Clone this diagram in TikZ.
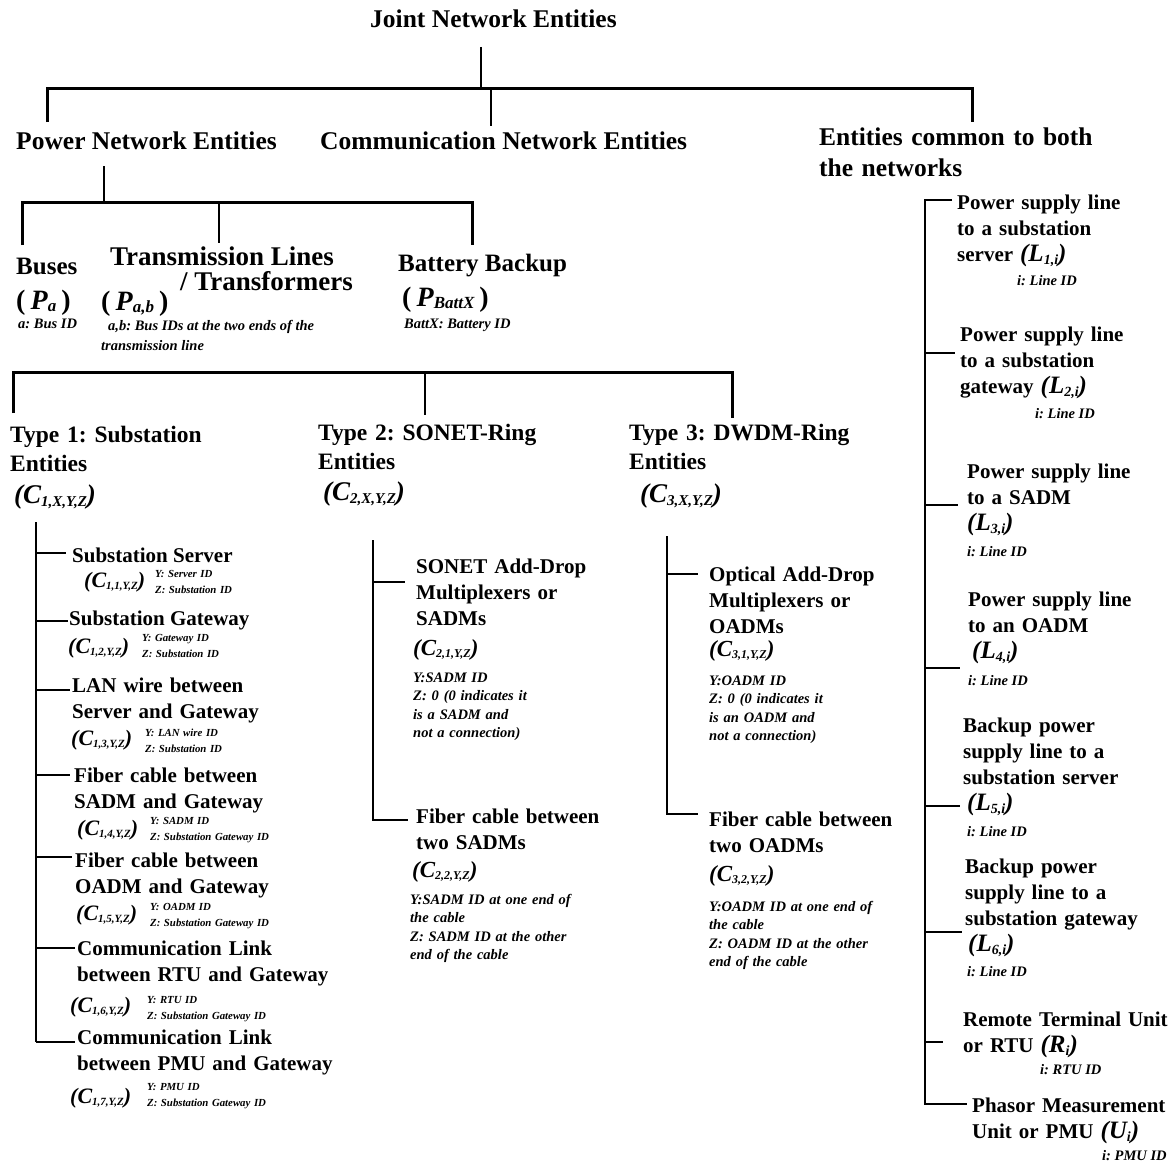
\documentclass[tikz,border=0pt]{standalone}
\usepackage{fontspec}
\setmainfont{Liberation Serif}
\frenchspacing
% type sizes for the levels of the tree
\newcommand\fontHead{\fontsize{25.5}{31}\selectfont\bfseries}
\newcommand\fontGroup{\fontsize{25}{30}\selectfont\bfseries}
\newcommand\fontType{\fontsize{23.5}{29}\selectfont\bfseries}
\newcommand\fontItem{\fontsize{21}{26}\selectfont\bfseries}
\newcommand\fontNote{\fontsize{14.5}{18.6}\selectfont\bfseries\itshape}
\newcommand\fontTiny{\fontsize{10.8}{16.5}\selectfont\bfseries\itshape}
\newcommand\fontPNote{\fontsize{14.5}{18}\selectfont\bfseries\itshape}
% entity symbols: (X_{sub})
\newcommand\Sym[4]{{\fontsize{#1}{#1}\selectfont\bfseries\itshape(#2\raisebox{-0.12em}{\fontsize{#3}{#3}\selectfont #4})}}
\newcommand\Psym[1]{{\fontsize{28}{28}\selectfont\bfseries(\hspace{5pt}\textit{P}\raisebox{-0.1em}{\fontsize{17}{17}\selectfont\itshape #1}\hspace{5pt})}}
\begin{document}
\begin{tikzpicture}[x=1pt,y=-1pt,
  txt/.style={anchor=base west,inner sep=0pt},
  multi/.style={txt,text width=#1,align=left},
  head/.style={txt,font=\fontHead},
  group/.style={txt,font=\fontGroup},
  typ/.style={multi=250pt,font=\fontType},
  item/.style={txt,font=\fontItem},
  items/.style={multi=#1,font=\fontItem},
  note/.style={txt,font=\fontNote},
  notes/.style={multi=#1,font=\fontNote},
  tiny/.style={multi=130pt,font=\fontTiny},
  pnote/.style={txt,font=\fontPNote},
  wire/.style={line width=2.6pt},
  bar/.style={line width=3pt}]
\fill[white] (0,0) rectangle (1174,1164);
\path[use as bounding box] (0,0) rectangle (1174,1164);

% ---------- top level ----------
\node[head] (root) at (370,28) {Joint Network Entities};
\node[head] (pow) at (16,149) {Power Network Entities};
\node[head] (com) at (320,149) {Communication Network Entities};
\node[head,multi=290pt] (both) at (819,145) {Entities common to both\\the networks};

\coordinate (rootS) at (481,47); \coordinate (rootB) at (481,88);
\coordinate (barL) at (47,88); \coordinate (barR) at (972,88);
\coordinate (powT) at (47,122); \coordinate (bothT) at (972,122);
\coordinate (comB) at (491,88); \coordinate (comT) at (491,126);
\draw[wire] (rootS) -- (rootB);
\draw[bar] (powT) -- (barL) -- (barR) -- (bothT);
\draw[wire] (comB) -- (comT);

% ---------- power network entities ----------
\node[group] (bus) at (16,274) {Buses};
\node[txt] (busf) at (16,309) {\Psym{a}};
\node[pnote] (busn) at (18,328) {a: Bus ID};

\node[txt,font=\fontsize{27}{30}\selectfont\bfseries] (tl) at (110,265) {Transmission Lines};
\node[txt,font=\fontsize{27}{30}\selectfont\bfseries] (tl2) at (180,290) {/ Transformers};
\node[txt] (tlf) at (101,310) {\Psym{a,b}};
\node[pnote] (tln) at (108,330) {a,b: Bus IDs at the two ends of the};
\node[pnote] (tln2) at (101,350) {transmission line};

\node[group] (bb) at (398,271) {Battery Backup};
\node[txt] (bbf) at (402,306) {\Psym{BattX}};
\node[pnote] (bbn) at (404,328) {BattX: Battery ID};

\coordinate (pS) at (104,166); \coordinate (pB) at (104,202);
\coordinate (pbL) at (22,202); \coordinate (pbR) at (472,202);
\coordinate (busT) at (22,245); \coordinate (tlB) at (219,202);
\coordinate (tlT) at (219,243); \coordinate (bbT) at (472,245);
\draw[wire] (pS) -- (pB);
\draw[bar] (busT) -- (pbL) -- (pbR) -- (bbT);
\draw[wire] (tlB) -- (tlT);

% ---------- communication network entities ----------
\coordinate (cbL) at (13,372); \coordinate (cbR) at (732,372);
\coordinate (t1T) at (13,413); \coordinate (t2B) at (425,372);
\coordinate (t2T) at (425,415); \coordinate (t3T) at (732,418);
\draw[bar] (t1T) -- (cbL) -- (cbR) -- (t3T);
\draw[wire] (t2B) -- (t2T);

\node[typ] (t1) at (10,442) {Type 1: Substation\\Entities};
\node[txt] (t1f) at (14,503) {\Sym{27}{C}{15}{1,X,Y,Z}};
\node[typ] (t2) at (318,440) {Type 2: SONET-Ring\\Entities};
\node[txt] (t2f) at (323,500) {\Sym{27}{C}{15}{2,X,Y,Z}};
\node[typ] (t3) at (629,440) {Type 3: DWDM-Ring\\Entities};
\node[txt] (t3f) at (640,502) {\Sym{27}{C}{15}{3,X,Y,Z}};

% Type 1 members
\node[item] (c11) at (72,562) {Substation Server};
\node[txt] (c11f) at (84,587) {\Sym{22}{C}{11}{1,1,Y,Z}};
\node[tiny] (c11n) at (155,577) {Y: Server ID\\Z: Substation ID};

\node[item] (c12) at (69,625) {Substation Gateway};
\node[txt] (c12f) at (68,653) {\Sym{22}{C}{11}{1,2,Y,Z}};
\node[tiny] (c12n) at (142,641) {Y: Gateway ID\\Z: Substation ID};

\node[items=280pt] (c13) at (72,692) {LAN wire between\\Server and Gateway};
\node[txt] (c13f) at (71,745) {\Sym{22}{C}{11}{1,3,Y,Z}};
\node[tiny] (c13n) at (145,736) {Y: LAN wire ID\\Z: Substation ID};

\node[items=280pt] (c14) at (74,782) {Fiber cable between\\SADM and Gateway};
\node[txt] (c14f) at (77,835) {\Sym{22}{C}{11}{1,4,Y,Z}};
\node[tiny] (c14n) at (150,824) {Y: SADM ID\\Z: Substation Gateway ID};

\node[items=280pt] (c15) at (75,867) {Fiber cable between\\OADM and Gateway};
\node[txt] (c15f) at (76,920) {\Sym{22}{C}{11}{1,5,Y,Z}};
\node[tiny] (c15n) at (150,910) {Y: OADM ID\\Z: Substation Gateway ID};

\node[items=280pt] (c16) at (77,955) {Communication Link\\between RTU and Gateway};
\node[txt] (c16f) at (70,1012) {\Sym{22}{C}{11}{1,6,Y,Z}};
\node[tiny] (c16n) at (147,1003) {Y: RTU ID\\Z: Substation Gateway ID};

\node[items=280pt] (c17) at (77,1044) {Communication Link\\between PMU and Gateway};
\node[txt] (c17f) at (70,1103) {\Sym{22}{C}{11}{1,7,Y,Z}};
\node[tiny] (c17n) at (147,1090) {Y: PMU ID\\Z: Substation Gateway ID};

\coordinate (s1T) at (36,522); \coordinate (s1B) at (36,1042);
\draw[wire] (s1T) -- (s1B);
\foreach \yy/\xx [count=\k] in {553/66,621/68,690/70,775/70,857/72,948/75,1042/75}
  \draw[wire] (36,\yy) coordinate (s1k\k) -- (\xx,\yy) coordinate (s1e\k);

% Type 2 members
\node[items=200pt] (c21) at (416,573) {SONET Add-Drop\\Multiplexers or\\SADMs};
\node[txt] (c21f) at (413,655) {\Sym{23}{C}{12}{2,1,Y,Z}};
\node[notes=180pt] (c21n) at (413,682) {Y:SADM ID\\Z: 0 (0 indicates it\\is a SADM and\\not a connection)};
\node[items=220pt] (c22) at (416,823) {Fiber cable between\\two SADMs};
\node[txt] (c22f) at (412,877) {\Sym{23}{C}{12}{2,2,Y,Z}};
\node[notes=190pt] (c22n) at (410,904) {Y:SADM ID at one end of\\the cable\\Z: SADM ID at the other\\end of the cable};

\coordinate (s2T) at (373,540); \coordinate (s2B) at (373,820);
\coordinate (s2a) at (373,582); \coordinate (s2ae) at (405,582);
\coordinate (s2be) at (408,820);
\draw[wire] (s2T) -- (s2B) -- (s2be);
\draw[wire] (s2a) -- (s2ae);

% Type 3 members
\node[items=200pt] (c31) at (709,581) {Optical Add-Drop\\Multiplexers or\\OADMs};
\node[txt] (c31f) at (709,656) {\Sym{23}{C}{12}{3,1,Y,Z}};
\node[notes=180pt] (c31n) at (709,685) {Y:OADM ID\\Z: 0 (0 indicates it\\is an OADM and\\not a connection)};
\node[items=200pt] (c32) at (709,826) {Fiber cable between\\two OADMs};
\node[txt] (c32f) at (709,881) {\Sym{23}{C}{12}{3,2,Y,Z}};
\node[notes=195pt] (c32n) at (709,911) {Y:OADM ID at one end of\\the cable\\Z: OADM ID at the other\\end of the cable};

\coordinate (s3T) at (667,536); \coordinate (s3B) at (667,814);
\coordinate (s3a) at (667,574); \coordinate (s3ae) at (698,574);
\coordinate (s3be) at (698,814);
\draw[wire] (s3T) -- (s3B) -- (s3be);
\draw[wire] (s3a) -- (s3ae);

% ---------- entities common to both networks ----------
\node[items=205pt] (l1) at (957,209) {Power supply line\\to a substation\\server \Sym{25}{L}{14}{1,i}};
\node[note] (l1n) at (1017,285) {i: Line ID};
\node[items=205pt] (l2) at (960,341) {Power supply line\\to a substation\\gateway \Sym{25}{L}{14}{2,i}};
\node[note] (l2n) at (1035,418) {i: Line ID};
\node[items=205pt] (l3) at (967,478) {Power supply line\\to a SADM\\\Sym{25}{L}{14}{3,i}};
\node[note] (l3n) at (967,556) {i: Line ID};
\node[items=205pt] (l4) at (968,606) {Power supply line\\to an OADM\\\hspace*{4pt}\Sym{25}{L}{14}{4,i}};
\node[note] (l4n) at (968,685) {i: Line ID};
\node[items=205pt] (l5) at (963,732) {Backup power\\supply line to a\\substation server\\\hspace*{4pt}\Sym{25}{L}{14}{5,i}};
\node[note] (l5n) at (967,836) {i: Line ID};
\node[items=205pt] (l6) at (965,873) {Backup power\\supply line to a\\substation gateway\\\hspace*{3pt}\Sym{25}{L}{14}{6,i}};
\node[note] (l6n) at (967,976) {i: Line ID};
\node[items=208pt] (rtu) at (963,1026) {Remote Terminal Unit\\or RTU \Sym{25}{R}{14}{i}};
\node[note] (rtun) at (1040,1074) {i: RTU ID};
\node[items=200pt] (pmu) at (972,1112) {Phasor Measurement\\Unit or PMU \Sym{25}{U}{14}{i}};
\node[note] (pmun) at (1102,1160) {i: PMU ID};

\coordinate (s4T) at (925,200); \coordinate (s4B) at (925,1104);
\coordinate (s4t) at (952,200); \coordinate (s4b) at (967,1104);
\draw[wire] (s4t) -- (s4T) -- (s4B) -- (s4b);
\foreach \yy/\xx [count=\k] in {353/955,505/958,668/960,806/960,932/962,1042/943}
  \draw[wire] (925,\yy) coordinate (s4k\k) -- (\xx,\yy) coordinate (s4e\k);
\end{tikzpicture}
\end{document}
